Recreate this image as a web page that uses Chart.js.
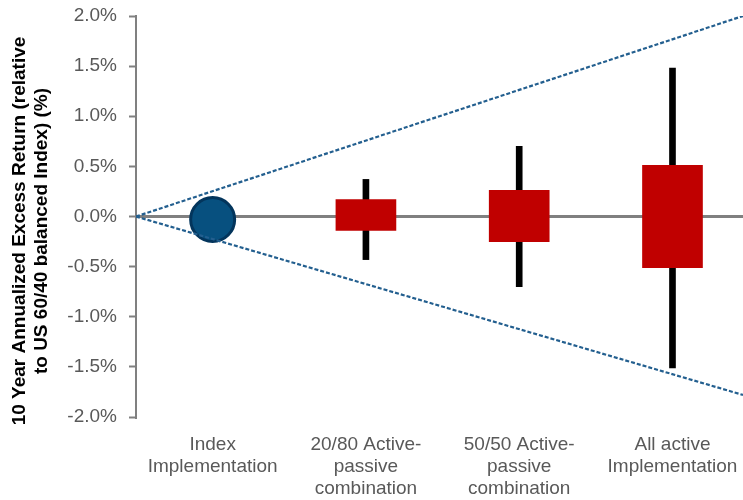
<!DOCTYPE html>
<html lang="en">
<head>
  <meta charset="UTF-8" />
  <title>Excess return by implementation</title>
  <script src="https://cdn.jsdelivr.net/npm/chart.js"></script>
  <style>
    body {
      margin: 0;
      background: #fff;
    }

    .wrap {
      width: 743px;
      height: 500px;
      position: relative;
    }
  </style>
</head>
<body>
  <div class="wrap">
    <canvas id="chart"></canvas>
  </div>

  <script>
    // categories along the bottom
    const categories = [
      ['Index', 'Implementation'],
      ['20/80 Active-', 'passive', 'combination'],
      ['50/50 Active-', 'passive', 'combination'],
      ['All active', 'Implementation']
    ];

    // index implementation point (%)
    const indexReturn = -0.03;

    // boxes and whiskers (%), null = not drawn
    const boxHigh = [null, 0.17, 0.26, 0.51];
    const boxLow = [null, -0.14, -0.25, -0.51];
    const whiskerHigh = [null, 0.37, 0.70, 1.48];
    const whiskerLow = [null, -0.43, -0.70, -1.51];

    // dashed cone, from the axis out to the right edge
    const coneX = [-0.5, 3.46];
    const coneUpper = [0, 2.0];
    const coneLower = [0, -1.78];

    const yTitle = ['10 Year Annualized Excess Return (relative', 'to US 60/40 balanced Index) (%)'];

    const FONT = "'Liberation Sans', Arial, sans-serif";
    Chart.defaults.font.family = FONT;

    function rangeData(lo, hi) {
      const out = [];
      lo.forEach((v, i) => {
        if (v !== null) out.push({ x: i, y: [v, hi[i]] });
      });
      return out;
    }

    // rotated two-line axis title
    const titlePlugin = {
      id: 'yTitle',
      afterDraw(chart) {
        const c = chart.ctx;
        c.save();
        c.font = 'bold 19px ' + FONT;
        c.fillStyle = '#000';
        c.textAlign = 'center';
        c.textBaseline = 'middle';
        [20, 42].forEach((x, i) => {
          c.save();
          c.translate(x, 231);
          c.rotate(-Math.PI / 2);
          c.fillText(yTitle[i], 0, 0);
          c.restore();
        });
        c.restore();
      }
    };

    const ctx = document.getElementById('chart').getContext('2d');
    new Chart(ctx, {
      type: 'bar',
      data: {
        datasets: [
          {
            type: 'line',
            data: coneX.map((x, i) => ({ x: x, y: coneUpper[i] })),
            borderColor: '#235f8f',
            borderWidth: 2.2,
            borderDash: [4, 2],
            pointRadius: 0,
            order: 0
          },
          {
            type: 'line',
            data: coneX.map((x, i) => ({ x: x, y: coneLower[i] })),
            borderColor: '#235f8f',
            borderWidth: 2.2,
            borderDash: [4, 2],
            pointRadius: 0,
            order: 0
          },
          {
            type: 'scatter',
            data: [{ x: 0, y: indexReturn }],
            pointRadius: 22,
            backgroundColor: '#07507f',
            borderColor: '#03355c',
            borderWidth: 3,
            order: 1
          },
          {
            data: rangeData(boxLow, boxHigh),
            backgroundColor: '#c00000',
            barThickness: 60,
            grouped: false,
            order: 2
          },
          {
            data: rangeData(whiskerLow, whiskerHigh),
            backgroundColor: '#000',
            barThickness: 6,
            grouped: false,
            order: 3
          }
        ]
      },
      options: {
        responsive: true,
        maintainAspectRatio: false,
        animation: false,
        layout: {
          autoPadding: false,
          padding: { top: 16, left: 0, right: 0, bottom: 0 }
        },
        plugins: {
          legend: { display: false },
          tooltip: { enabled: false }
        },
        scales: {
          x: {
            type: 'linear',
            offset: false,
            min: -0.5,
            max: 3.46,
            afterBuildTicks: s => { s.ticks = categories.map((c, i) => ({ value: i })); },
            afterFit: s => {
              s.height = 83;
              s.paddingLeft = 0;
              s.paddingRight = 0;
            },
            grid: { display: false, drawTicks: false },
            border: { display: false },
            ticks: {
              callback: v => categories[v],
              color: '#595959',
              font: { size: 19, lineHeight: 1.16 },
              padding: 17,
              maxRotation: 0,
              autoSkip: false
            }
          },
          y: {
            min: -2,
            max: 2,
            afterFit: s => {
              s.width = 136;
              s.paddingTop = 0;
              s.paddingBottom = 0;
            },
            border: { color: '#808080', width: 2 },
            grid: {
              color: c => c.tick && c.tick.value === 0 ? '#808080' : 'rgba(0,0,0,0)',
              lineWidth: 3,
              tickColor: '#808080',
              tickWidth: 2,
              tickLength: 7
            },
            ticks: {
              stepSize: 0.5,
              callback: v => v.toFixed(1) + '%',
              color: '#595959',
              font: { size: 19 },
              padding: 12
            }
          }
        }
      },
      plugins: [titlePlugin]
    });
  </script>
</body>
</html>
